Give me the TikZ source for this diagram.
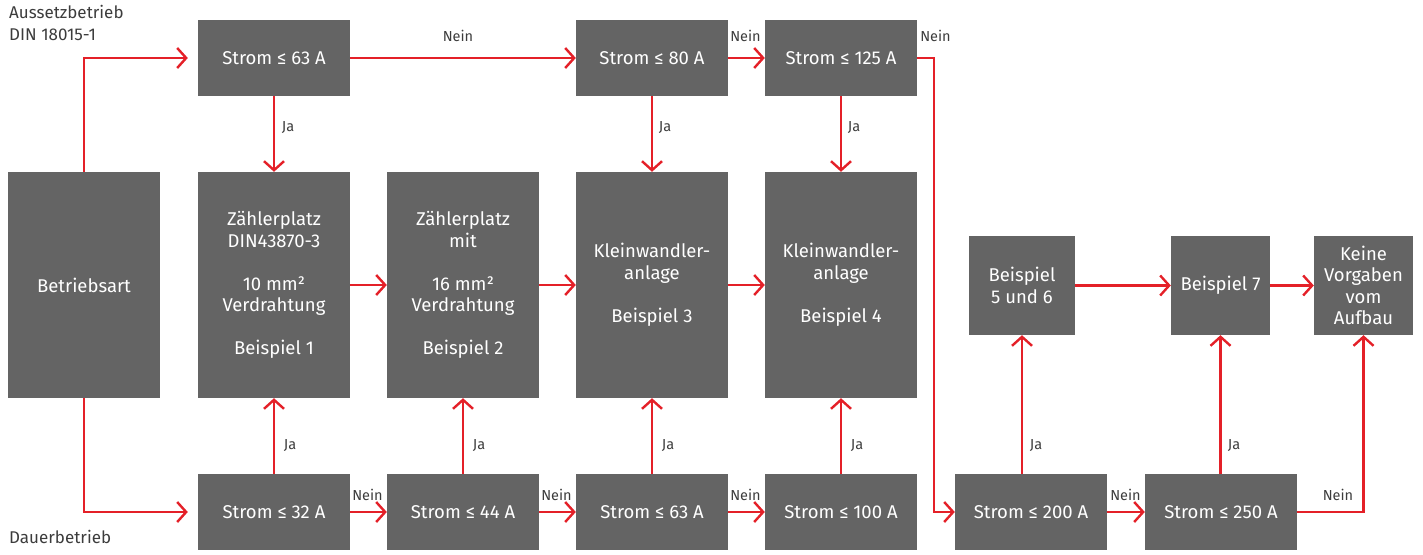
\documentclass[tikz,border=0pt]{standalone}
\usepackage{fontspec}
\setmainfont{Fira Sans}
\usetikzlibrary{arrows.meta}
\definecolor{boxgray}{RGB}{100,100,100}
\definecolor{abbred}{RGB}{228,32,40}
\definecolor{lblgray}{RGB}{60,60,60}
\begin{document}
\begin{tikzpicture}[x=1pt,y=-1pt,
 box/.style={fill=boxgray,text=white,inner sep=0pt,minimum width=152pt,minimum height=76pt,align=center,font=\fontsize{18.5}{21.5}\selectfont},
 tall/.style={box,minimum height=226pt},
 sq/.style={box,minimum width=99pt,minimum height=99pt},
 arr/.style={draw=abbred,line width=2.4pt,-{Straight Barb[length=9pt,width=20pt]}},
 lbl/.style={text=lblgray,font=\fontsize{14.5}{16}\selectfont,inner sep=0pt},
 side/.style={text=lblgray,inner sep=0pt,font=\fontsize{17}{22}\selectfont,align=left,anchor=north west}]
\useasboundingbox (0,0) rectangle (1423,554);
% boxes
\node[tall] (bart) at (84,285) {Betriebsart};
\node[box] (s63t) at (274,58) {Strom ≤ 63 A};
\node[box] (s80) at (652,58) {Strom ≤ 80 A};
\node[box] (s125) at (841,58) {Strom ≤ 125 A};
\node[tall] (z1) at (274,285) {Zählerplatz\\DIN43870-3\\[21.5pt]10 mm²\\Verdrahtung\\[21.5pt]Beispiel 1};
\node[tall] (z2) at (463,285) {Zählerplatz\\mit\\[21.5pt]16 mm²\\Verdrahtung\\[21.5pt]Beispiel 2};
\node[tall] (k3) at (652,285) {Kleinwandler-\\anlage\\[21.5pt]Beispiel 3};
\node[tall] (k4) at (841,285) {Kleinwandler-\\anlage\\[21.5pt]Beispiel 4};
\node[box] (s32) at (274,512) {Strom ≤ 32 A};
\node[box] (s44) at (463,512) {Strom ≤ 44 A};
\node[box] (s63b) at (652,512) {Strom ≤ 63 A};
\node[box] (s100) at (841,512) {Strom ≤ 100 A};
\node[box] (s200) at (1031,512) {Strom ≤ 200 A};
\node[box] (s250) at (1221,512) {Strom ≤ 250 A};
\node[sq,minimum width=106pt] (b56) at (1022,285.5) {Beispiel\\5 und 6};
\node[sq] (b7) at (1220.5,285.5) {Beispiel 7};
\node[sq] (kv) at (1363.5,285.5) {Keine\\Vorgaben\\vom\\Aufbau};
% side texts
\node[side] (aus) at (9,5) {Aussetzbetrieb\\DIN 18015-1};
\node[side,anchor=west] (dau) at (9,537) {Dauerbetrieb};
% connectors
\draw[arr,shorten >=10pt] (bart.north) |- (s63t.west);
\draw[arr,shorten >=10pt] (bart.south) |- (s32.west);
\draw[arr] (s63t) -- (s80);
\draw[arr] (s80) -- (s125);
\draw[arr] (s125.east) -- ++(17,0) |- (s200.west);
\draw[arr] (s63t) -- (z1);
\draw[arr] (s80) -- (k3);
\draw[arr] (s125) -- (k4);
\draw[arr] (z1) -- (z2);
\draw[arr] (z2) -- (k3);
\draw[arr] (k3) -- (k4);
\draw[arr] (s32) -- (z1);
\draw[arr] (s44) -- (z2);
\draw[arr] (s63b) -- (k3);
\draw[arr] (s100) -- (k4);
\draw[arr] (s32) -- (s44);
\draw[arr] (s44) -- (s63b);
\draw[arr] (s63b) -- (s100);
\draw[arr] (s200) -- (s250);
\draw[arr] (s200.north -| b56.south) -- (b56.south);
\draw[arr] (s250.north -| b7.south) -- (b7.south);
\draw[arr] (s250.east) -| (kv.south);
\draw[arr] (b56) -- (b7);
\draw[arr] (b7) -- (kv);
% labels
\node[lbl] (n1) at (458,36) {Nein};
\node[lbl] (n2) at (745.5,36) {Nein};
\node[lbl] (n3) at (935.5,36) {Nein};
\node[lbl] (n4) at (367.5,495) {Nein};
\node[lbl] (n5) at (556.5,495) {Nein};
\node[lbl] (n6) at (745.5,495) {Nein};
\node[lbl] (n7) at (1125.5,495) {Nein};
\node[lbl] (n8) at (1338,495) {Nein};
\node[lbl] (j1) at (288,127) {Ja};
\node[lbl] (j2) at (665,127) {Ja};
\node[lbl] (j3) at (854,127) {Ja};
\node[lbl] (j4) at (290,445) {Ja};
\node[lbl] (j5) at (479,445) {Ja};
\node[lbl] (j6) at (668,445) {Ja};
\node[lbl] (j7) at (857,445) {Ja};
\node[lbl] (j8) at (1036,445) {Ja};
\node[lbl] (j9) at (1234,445) {Ja};
\end{tikzpicture}
\end{document}
